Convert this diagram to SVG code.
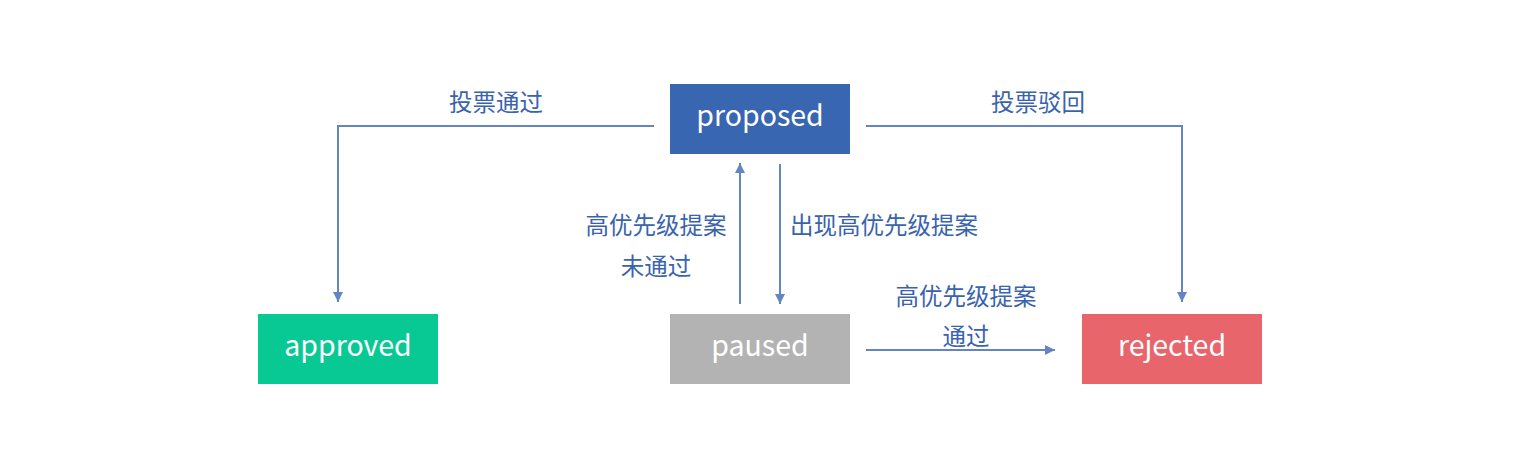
<svg xmlns="http://www.w3.org/2000/svg" width="1520" height="464" viewBox="0 0 1520 464">
<style>
.node text{font-family:"Noto Sans CJK SC","Noto Sans",sans-serif;font-size:28.5px;fill:#fff;text-anchor:middle;dominant-baseline:central}
.lbl{font-family:"Noto Sans CJK SC",sans-serif;font-size:23.5px;fill:#3a63ad;text-anchor:middle;dominant-baseline:central}
.edge{fill:none;stroke:#6386c3;stroke-width:2}
</style>
<defs>
<marker id="ah" viewBox="0 0 10 10" refX="10" refY="5" markerWidth="5" markerHeight="5" markerUnits="strokeWidth" orient="auto">
<path d="M0,0 L10,5 L0,10 z" fill="#6386c3"/>
</marker>
</defs>
<rect width="1520" height="464" fill="#fff"/>
<g id="connectors">
<path class="edge" d="M654,126 H338 V302" marker-end="url(#ah)"/>
<path class="edge" d="M866,126 H1182 V302" marker-end="url(#ah)"/>
<path class="edge" d="M740,304 V163" marker-end="url(#ah)"/>
<path class="edge" d="M780,164 V304" marker-end="url(#ah)"/>
<path class="edge" d="M866,350 H1055" marker-end="url(#ah)"/>
<text class="lbl" x="496" y="101">投票通过</text>
<text class="lbl" x="1038" y="101">投票驳回</text>
<text class="lbl" x="656" y="224">高优先级提案</text>
<text class="lbl" x="656" y="265">未通过</text>
<text class="lbl" x="884" y="224">出现高优先级提案</text>
<text class="lbl" x="966" y="295">高优先级提案</text>
<text class="lbl" x="966" y="335">通过</text>
</g>
<g id="proposed" class="node"><rect x="670" y="84" width="180" height="70" fill="#3966b0"/><text x="760" y="113">proposed</text></g>
<g id="approved" class="node"><rect x="258" y="314" width="180" height="70" fill="#08c994"/><text x="348" y="343">approved</text></g>
<g id="paused" class="node"><rect x="670" y="314" width="180" height="70" fill="#b3b3b3"/><text x="760" y="343">paused</text></g>
<g id="rejected" class="node"><rect x="1082" y="314" width="180" height="70" fill="#e8666b"/><text x="1172" y="343">rejected</text></g>
</svg>
